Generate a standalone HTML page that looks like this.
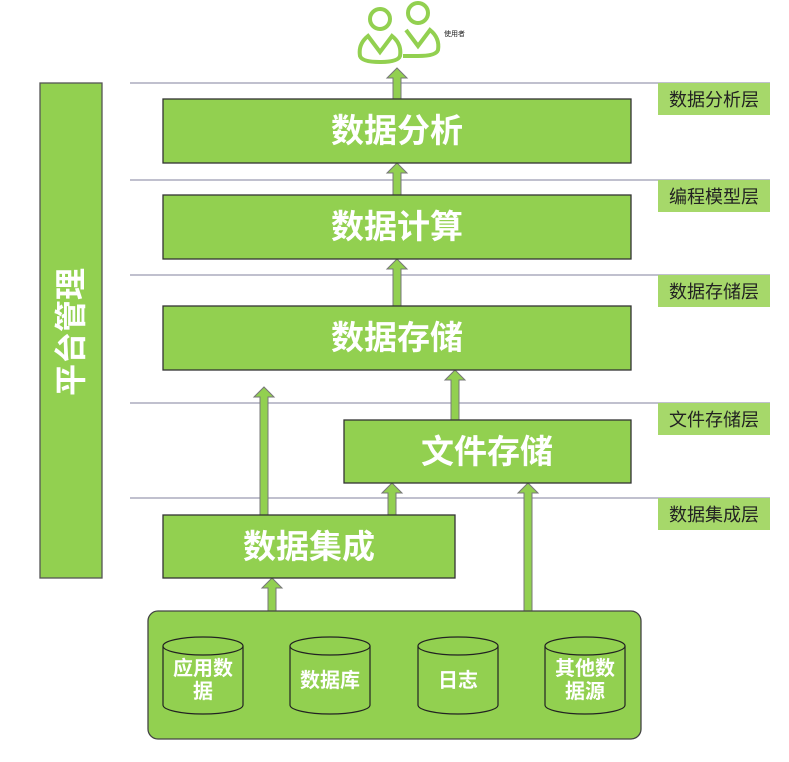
<!DOCTYPE html>
<html><head><meta charset="utf-8"><style>
html,body{margin:0;padding:0;background:#fff;}
svg{display:block;}
.bt{font-family:"Liberation Sans","Noto Sans CJK SC",sans-serif;font-weight:bold;fill:#fff;}
.lt{font-family:"Liberation Sans","Noto Sans CJK SC",sans-serif;fill:#222;font-size:18px;}
</style></head><body>
<svg width="789" height="762" viewBox="0 0 789 762" xmlns="http://www.w3.org/2000/svg">
<!-- layer lines -->
<g stroke="#9a9ab0" stroke-width="1.3">
<line x1="130" y1="83" x2="770" y2="83"/>
<line x1="130" y1="180" x2="770" y2="180"/>
<line x1="130" y1="275" x2="770" y2="275"/>
<line x1="130" y1="403" x2="770" y2="403"/>
<line x1="130" y1="498" x2="770" y2="498"/>
</g>
<!-- labels -->
<g fill="#a6d86a">
<rect x="658" y="83" width="112" height="32"/>
<rect x="658" y="180" width="112" height="32"/>
<rect x="658" y="275" width="112" height="32"/>
<rect x="658" y="403" width="112" height="32"/>
<rect x="658" y="498" width="112" height="32"/>
</g>
<text class="lt" x="714" y="106" text-anchor="middle">数据分析层</text>
<text class="lt" x="714" y="203" text-anchor="middle">编程模型层</text>
<text class="lt" x="714" y="298" text-anchor="middle">数据存储层</text>
<text class="lt" x="714" y="426" text-anchor="middle">文件存储层</text>
<text class="lt" x="714" y="521" text-anchor="middle">数据集成层</text>
<!-- left bar -->
<rect x="40" y="83" width="62" height="495" fill="#92d050" stroke="#555" stroke-width="1.3"/>
<text class="bt" font-size="32" transform="translate(82,332) rotate(-90)" text-anchor="middle">平台管理</text>
<!-- users -->
<g fill="none" stroke="#92d050" stroke-width="4">
<circle cx="380" cy="19" r="10"/>
<path d="M368,36 L380,52 L392,36 Q402,44 400,56 Q398,62 380,62 Q362,62 360,56 Q358,44 368,36 Z"/>
<circle cx="418" cy="13" r="10"/>
<path d="M406,30 L418,46 L430,30 Q440,38 438,50 Q436,56 418,56 L403,56"/>
</g>
<text x="444" y="36" font-size="7" font-family="Liberation Sans,Noto Sans CJK SC,sans-serif" fill="#222">使用者</text>
<!-- arrows -->
<g fill="#92d050" stroke="#777" stroke-width="1">
<path d="M393,99 L393,78 L387,78 L397,68 L407,78 L401,78 L401,99 Z"/>
<path d="M393,195 L393,173 L387,173 L397,163 L407,173 L401,173 L401,195 Z"/>
<path d="M393,306 L393,269 L387,269 L397,259 L407,269 L401,269 L401,306 Z"/>
<path d="M260,515 L260,397 L254,397 L264,387 L274,397 L268,397 L268,515 Z"/>
<path d="M451,420 L451,380 L445,380 L455,370 L465,380 L459,380 L459,420 Z"/>
<path d="M388,515 L388,493 L382,493 L392,483 L402,493 L396,493 L396,515 Z"/>
<path d="M268,611 L268,588 L262,588 L272,578 L282,588 L276,588 L276,611 Z"/>
<path d="M524,611 L524,493 L518,493 L528,483 L538,493 L532,493 L532,611 Z"/>
</g>
<!-- boxes -->
<g fill="#92d050" stroke="#333" stroke-width="1.3">
<rect x="163" y="99" width="468" height="64"/>
<rect x="163" y="195" width="468" height="64"/>
<rect x="163" y="306" width="468" height="64"/>
<rect x="344" y="420" width="287" height="63"/>
<rect x="163" y="515" width="292" height="63"/>
</g>
<text class="bt" font-size="33" x="397" y="142" text-anchor="middle">数据分析</text>
<text class="bt" font-size="33" x="397" y="238" text-anchor="middle">数据计算</text>
<text class="bt" font-size="33" x="397" y="349" text-anchor="middle">数据存储</text>
<text class="bt" font-size="33" x="487" y="463" text-anchor="middle">文件存储</text>
<text class="bt" font-size="33" x="309" y="558" text-anchor="middle">数据集成</text>
<!-- bottom container -->
<rect x="148" y="611" width="493" height="128" rx="10" fill="#92d050" stroke="#444" stroke-width="1.3"/>
<g fill="#92d050" stroke="#222" stroke-width="1.2">
<g transform="translate(203,0)"><path d="M-40,646 L-40,705 A40,9 0 0 0 40,705 L40,646"/><ellipse cx="0" cy="646" rx="40" ry="9"/></g>
<g transform="translate(330,0)"><path d="M-40,646 L-40,705 A40,9 0 0 0 40,705 L40,646"/><ellipse cx="0" cy="646" rx="40" ry="9"/></g>
<g transform="translate(458,0)"><path d="M-40,646 L-40,705 A40,9 0 0 0 40,705 L40,646"/><ellipse cx="0" cy="646" rx="40" ry="9"/></g>
<g transform="translate(585,0)"><path d="M-40,646 L-40,705 A40,9 0 0 0 40,705 L40,646"/><ellipse cx="0" cy="646" rx="40" ry="9"/></g>
</g>
<g class="bt" font-size="20" text-anchor="middle">
<text x="203" y="675">应用数</text><text x="203" y="698">据</text>
<text x="330" y="687">数据库</text>
<text x="458" y="687">日志</text>
<text x="585" y="675">其他数</text><text x="585" y="698">据源</text>
</g>
</svg>
</body></html>
